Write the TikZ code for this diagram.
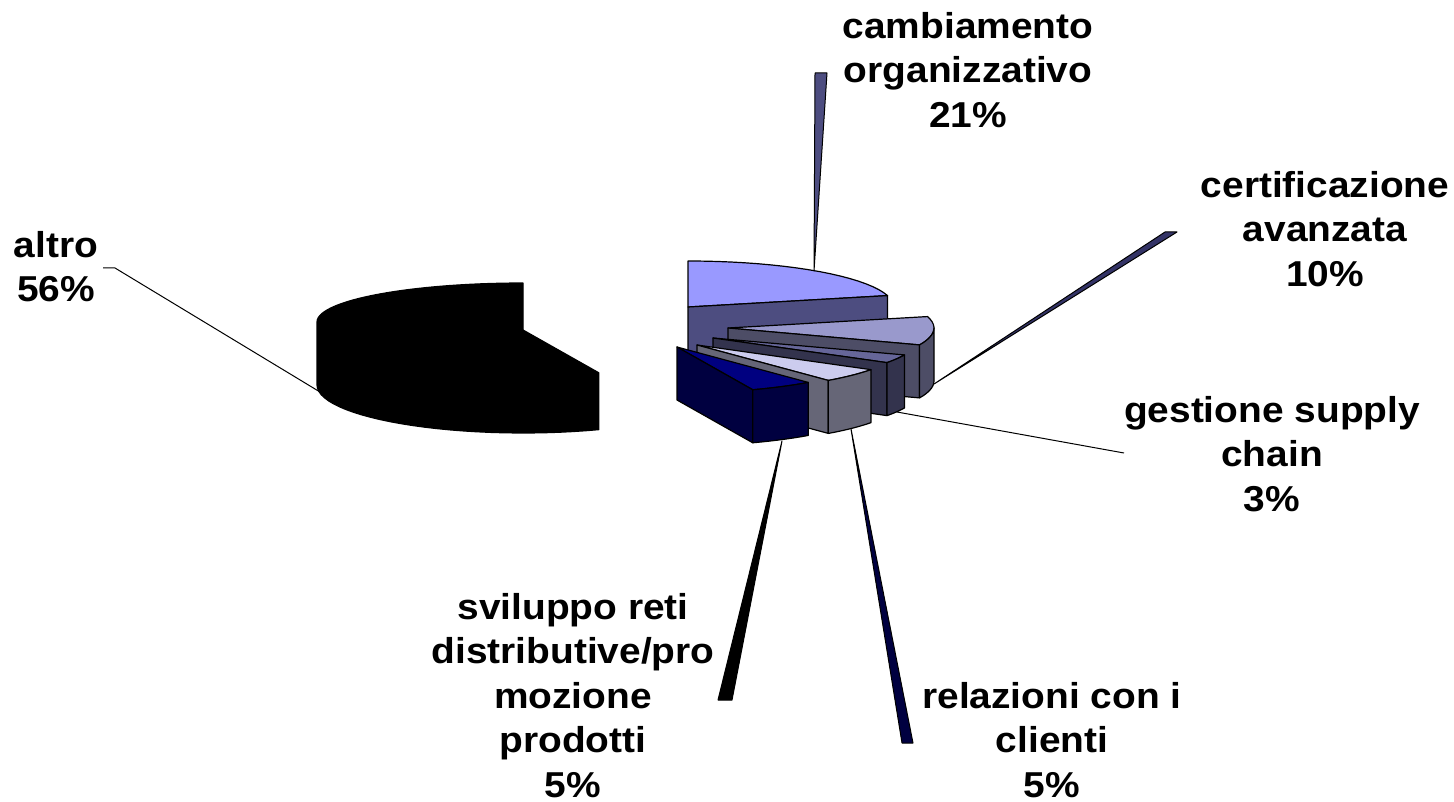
\documentclass[tikz,border=0pt]{standalone}
\usepackage{fontspec}
\newfontfamily\lblfont[FakeStretch=1.08]{Liberation Sans Bold}
\definecolor{cambTop}{HTML}{9999FF}
\definecolor{cambSide}{HTML}{4D4D80}
\definecolor{certTop}{HTML}{9999CC}
\definecolor{certSide}{HTML}{4D4D66}
\definecolor{gestTop}{HTML}{666699}
\definecolor{gestSide}{HTML}{33334D}
\definecolor{relTop}{HTML}{CCCCEE}
\definecolor{relSide}{HTML}{666677}
\definecolor{svilTop}{HTML}{000080}
\definecolor{svilSide}{HTML}{000040}
\definecolor{certLead}{HTML}{333366}
\begin{document}
\begin{tikzpicture}[x=1pt,y=-1pt,
    face/.style={draw=black, line width=1.2pt, line join=round},
    leader/.style={draw=black, line width=1pt, line join=round},
    lbl/.style={font=\lblfont\fontsize{36}{44.5}\selectfont, align=center,
      anchor=north, inner sep=0pt}]
  \useasboundingbox (0,0) rectangle (1454,802);
  % altro (all black, one outline)
  \filldraw[face, fill=black] (523,283) -- (523,330) -- (598.8,372.8)
    -- plot[domain=158.4:270, samples=30] ({523+206*sin(\x)}, {385-48*cos(\x)})
    -- (317,322)
    -- plot[domain=270:360, samples=30] ({523+206*sin(\x)}, {322-39*cos(\x)})
    -- cycle;
  % cambiamento organizzativo
  \filldraw[face, fill=cambTop] (688,307) -- plot[domain=0:75.6, samples=20]
    ({688+206*sin(\x)}, {307-46*cos(\x)}) -- cycle;
  \filldraw[face, fill=cambSide] (688,307) -- (887.5,295.6) -- (887.5,348.6)
    -- (688,360) -- cycle;
  % certificazione avanzata
  \filldraw[face, fill=certTop] (728,328) -- plot[domain=75.6:111.6, samples=12]
    ({728+206*sin(\x)}, {328-46*cos(\x)}) -- cycle;
  \filldraw[face, fill=certSide] (728,328) -- (919.5,344.9) -- (919.5,397.9)
    -- (728,381) -- cycle;
  \filldraw[face, fill=certSide] plot[domain=90:111.6, samples=8]
    ({728+206*sin(\x)}, {328-46*cos(\x)})
    -- plot[domain=111.6:90, samples=8]
    ({728+206*sin(\x)}, {381-46*cos(\x)}) -- cycle;
  % gestione supply chain
  \filldraw[face, fill=gestTop] (713,338) -- plot[domain=111.6:122.4, samples=6]
    ({713+206*sin(\x)}, {338-46*cos(\x)}) -- cycle;
  \filldraw[face, fill=gestSide] (713,338) -- (886.9,362.6) -- (886.9,415.6)
    -- (713,391) -- cycle;
  \filldraw[face, fill=gestSide] plot[domain=111.6:122.4, samples=6]
    ({713+206*sin(\x)}, {338-46*cos(\x)})
    -- plot[domain=122.4:111.6, samples=6]
    ({713+206*sin(\x)}, {391-46*cos(\x)}) -- cycle;
  % relazioni con i clienti
  \filldraw[face, fill=relTop] (697,345) -- plot[domain=122.4:140.4, samples=8]
    ({697+206*sin(\x)}, {345-46*cos(\x)}) -- cycle;
  \filldraw[face, fill=relSide] (697,345) -- (828.3,380.4) -- (828.3,433.4)
    -- (697,398) -- cycle;
  \filldraw[face, fill=relSide] plot[domain=122.4:140.4, samples=8]
    ({697+206*sin(\x)}, {345-46*cos(\x)})
    -- plot[domain=140.4:122.4, samples=8]
    ({697+206*sin(\x)}, {398-46*cos(\x)}) -- cycle;
  % sviluppo reti distributive
  \filldraw[face, fill=svilTop] (677,347) -- plot[domain=140.4:158.4, samples=8]
    ({677+206*sin(\x)}, {347-46*cos(\x)}) -- cycle;
  \filldraw[face, fill=svilSide] (677,347) -- (752.8,389.8) -- (752.8,442.8)
    -- (677,400) -- cycle;
  \filldraw[face, fill=svilSide] plot[domain=140.4:158.4, samples=8]
    ({677+206*sin(\x)}, {347-46*cos(\x)})
    -- plot[domain=158.4:140.4, samples=8]
    ({677+206*sin(\x)}, {400-46*cos(\x)}) -- cycle;

  % labels
  \node[lbl] (cambLabel) at (968,12) {cambiamento\\organizzativo\\21\%};
  \node[lbl] (certLabel) at (1325,171) {certificazione\\avanzata\\10\%};
  \node[lbl] (gestLabel) at (1272,396) {gestione supply\\chain\\3\%};
  \node[lbl] (relLabel) at (1052,682) {relazioni con i\\clienti\\5\%};
  \node[lbl] (svilLabel) at (573,593)
    {sviluppo reti\\distributive/pro\\mozione\\prodotti\\5\%};
  \node[lbl] (altroLabel) at (56,231) {altro\\56\%};

  % leader lines
  \coordinate (cambFoot) at (814,271);
  \coordinate (cambEndL) at (815,73);
  \coordinate (cambEndR) at (827,73);
  \coordinate (certFoot) at (934,384);
  \coordinate (certEndL) at (1165,232);
  \coordinate (certEndR) at (1177,232);
  \coordinate (gestFoot) at (897,412);
  \coordinate (gestEnd) at (1124,453);
  \coordinate (relFoot) at (851,429);
  \coordinate (relEndL) at (902,743);
  \coordinate (relEndR) at (913,743);
  \coordinate (svilFoot) at (782,441);
  \coordinate (svilEndL) at (718,700);
  \coordinate (svilEndR) at (732,700);
  \coordinate (altroFoot) at (320,392);
  \coordinate (altroBend) at (115,268);
  \coordinate (altroEnd) at (103,268);
  \filldraw[leader, fill=cambSide] (cambFoot) -- (cambEndL) -- (cambEndR) -- cycle;
  \filldraw[leader, fill=certLead] (certFoot) -- (certEndL) -- (certEndR) -- cycle;
  \draw[leader] (gestFoot) -- (gestEnd);
  \filldraw[leader, fill=svilSide] (relFoot) -- (relEndL) -- (relEndR) -- cycle;
  \filldraw[leader, fill=black] (svilFoot) -- (svilEndL) -- (svilEndR) -- cycle;
  \draw[leader] (altroFoot) -- (altroBend) -- (altroEnd);
\end{tikzpicture}
\end{document}
